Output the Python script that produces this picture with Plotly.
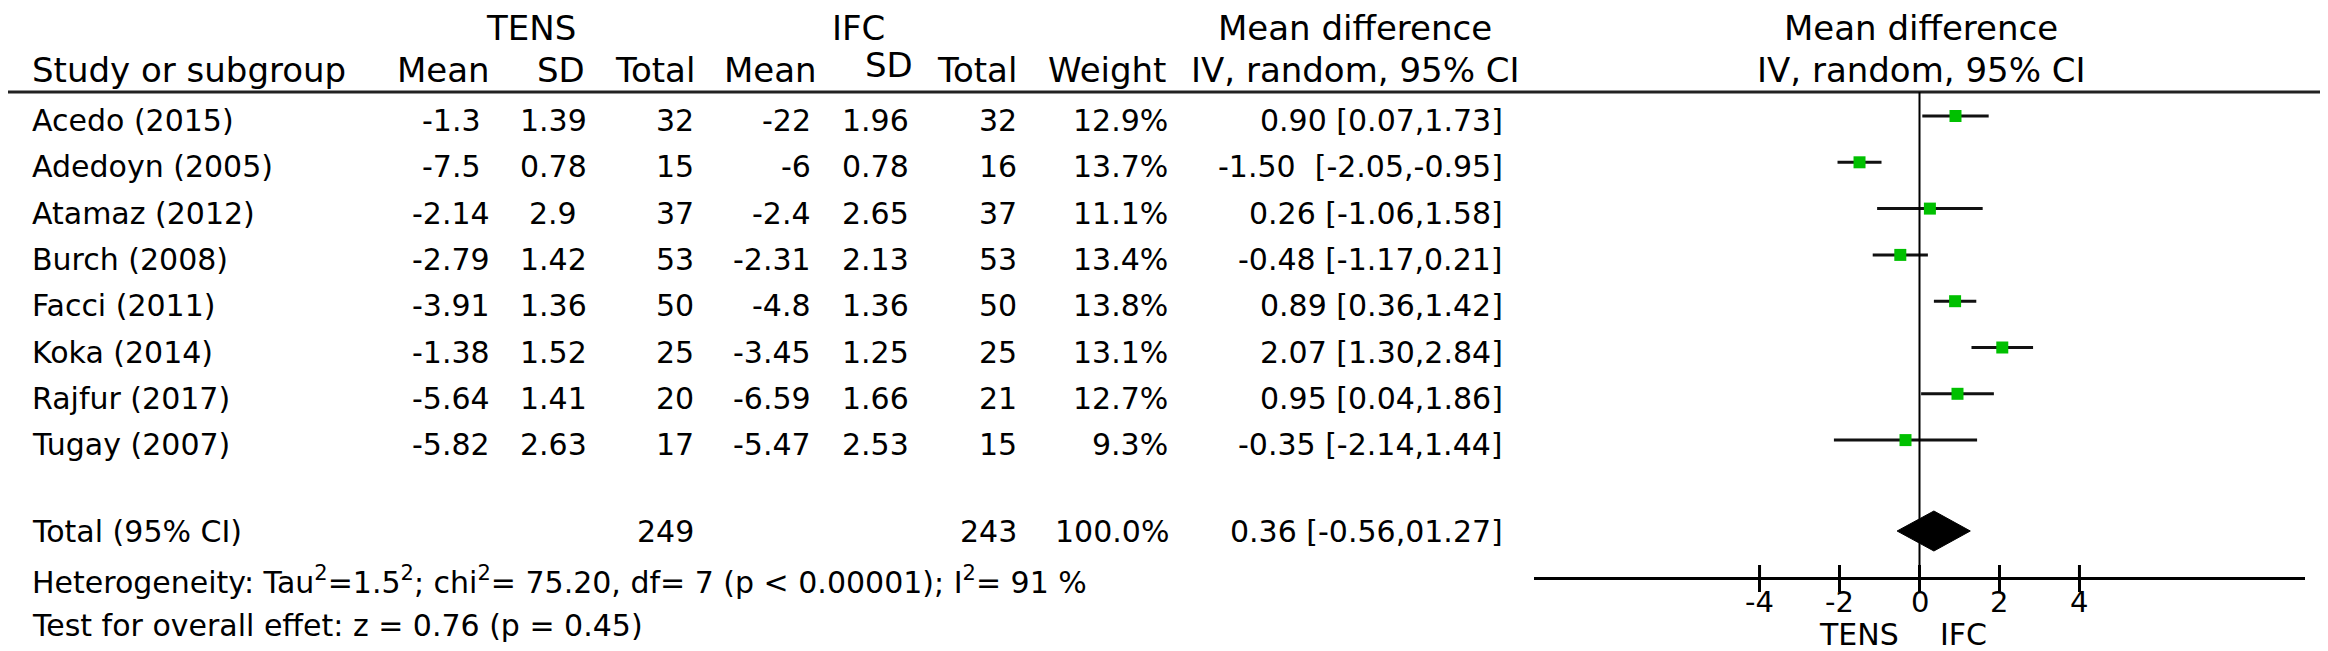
import plotly.graph_objects as go

# ---------------- data ----------------
studies = ["Acedo (2015)", "Adedoyn (2005)", "Atamaz (2012)", "Burch (2008)",
           "Facci (2011)", "Koka (2014)", "Rajfur (2017)", "Tugay (2007)"]
tens_mean = [-1.3, -7.5, -2.14, -2.79, -3.91, -1.38, -5.64, -5.82]
tens_sd = [1.39, 0.78, 2.9, 1.42, 1.36, 1.52, 1.41, 2.63]
tens_n = [32, 15, 37, 53, 50, 25, 20, 17]
ifc_mean = [-22, -6, -2.4, -2.31, -4.8, -3.45, -6.59, -5.47]
ifc_sd = [1.96, 0.78, 2.65, 2.13, 1.36, 1.25, 1.66, 2.53]
ifc_n = [32, 16, 37, 53, 50, 25, 21, 15]
weight = [12.9, 13.7, 11.1, 13.4, 13.8, 13.1, 12.7, 9.3]
md = [0.90, -1.50, 0.26, -0.48, 0.89, 2.07, 0.95, -0.35]
md_lo = [0.07, -2.05, -1.06, -1.17, 0.36, 1.30, 0.04, -2.14]
md_hi = [1.73, -0.95, 1.58, 0.21, 1.42, 2.84, 1.86, 1.44]
md_text = ["0.90 [0.07,1.73]", "-1.50\u00a0 [-2.05,-0.95]", "0.26 [-1.06,1.58]",
           "-0.48 [-1.17,0.21]", "0.89 [0.36,1.42]", "2.07 [1.30,2.84]",
           "0.95 [0.04,1.86]", "-0.35 [-2.14,1.44]"]
total_tens_n = 249
total_ifc_n = 243
total_weight = "100.0%"
total_md, total_lo, total_hi = 0.36, -0.56, 1.27
total_text = "0.36 [-0.56,01.27]"
heterogeneity = "Heterogeneity: Tau<sup>2</sup>=1.5<sup>2</sup>; chi<sup>2</sup>= 75.20, df= 7 (p < 0.00001); I<sup>2</sup>= 91 %"
overall = "Test for overall effet: z = 0.76 (p = 0.45)"
tick_vals = [-4, -2, 0, 2, 4]
tick_text = ["-4", "-2", "0", "2", "4"]

# ---------------- layout constants (pixels) ----------------
W, H = 2328, 651
FONT = "DejaVu Sans, Liberation Sans, Arial, sans-serif"
FS = 30          # body text
FS_HEAD = 34     # header text
FS_TICK = 29
FS_SIDE = 30
AXIS_Y = 569
HEAD_LINE_Y = 84
ROW0, ROW_STEP = 108, 46.3
TEXT_OFF = 4.5
TOTAL_Y = 523
GREEN = "#00c000"

row_y = [ROW0 + i * ROW_STEP for i in range(len(studies))]

def px(x):
    return x / W

def py(y):
    return 1 - y / H

fig = go.Figure()

# CI lines
cx, cy = [], []
for lo, hi, y in zip(md_lo, md_hi, row_y):
    cx += [lo, hi, None]
    cy += [y, y, None]
fig.add_trace(go.Scatter(x=cx, y=cy, mode="lines", line=dict(color="#111111", width=3),
                         hoverinfo="skip", showlegend=False))
# squares
fig.add_trace(go.Scatter(x=md, y=row_y, mode="markers",
                         marker=dict(symbol="square", size=12, color=GREEN, line=dict(width=0)),
                         showlegend=False))
# diamond
DH = 20
fig.add_trace(go.Scatter(x=[total_lo, total_md, total_hi, total_md, total_lo],
                         y=[TOTAL_Y, TOTAL_Y - DH, TOTAL_Y, TOTAL_Y + DH, TOTAL_Y],
                         mode="lines", fill="toself", fillcolor="black",
                         line=dict(color="black", width=1), showlegend=False))
# upper half of tick marks (lower half drawn by the axis)
tx, ty = [], []
for t in tick_vals:
    tx += [t, t, None]
    ty += [AXIS_Y - 12, AXIS_Y, None]
fig.add_trace(go.Scatter(x=tx, y=ty, mode="lines", line=dict(color="black", width=3),
                         hoverinfo="skip", showlegend=False))

# header line across full width
fig.add_shape(type="line", xref="paper", yref="paper", x0=0, x1=1,
              y0=py(HEAD_LINE_Y), y1=py(HEAD_LINE_Y), line=dict(color="#222222", width=3))
# zero line
fig.add_shape(type="line", xref="x", yref="y", x0=0, x1=0, y0=HEAD_LINE_Y, y1=AXIS_Y,
              line=dict(color="black", width=2))

ann = []

def txt(text, x, y, anchor="left", size=FS, xref="paper"):
    ann.append(dict(text=text, x=px(x) if xref == "paper" else x, y=py(y),
                    xref=xref, yref="paper",
                    xanchor=anchor, yanchor="middle", showarrow=False,
                    font=dict(family=FONT, size=size, color="black")))

# headers
HY1, HY2 = 20, 62
txt("TENS", 523, HY1, "center", FS_HEAD)
txt("IFC", 850, HY1, "center", FS_HEAD)
txt("Mean difference", 1347, HY1, "center", FS_HEAD)
txt("Mean difference", 1913, HY1, "center", FS_HEAD)
txt("Study or subgroup", 22, HY2, "left", FS_HEAD)
txt("Mean", 435, HY2, "center", FS_HEAD)
txt("SD", 579, HY2, "right", FS_HEAD)
txt("Total", 689, HY2, "right", FS_HEAD)
txt("Mean", 762, HY2, "center", FS_HEAD)
txt("SD", 907, HY2 - 5, "right", FS_HEAD)
txt("Total", 1011, HY2, "right", FS_HEAD)
txt("Weight", 1160, HY2, "right", FS_HEAD)
txt("IV, random, 95% CI", 1347, HY2, "center", FS_HEAD)
txt("IV, random, 95% CI", 1913, HY2, "center", FS_HEAD)

for i, s in enumerate(studies):
    y = row_y[i] + TEXT_OFF
    txt(s, 22, y, "left")
    txt(f"{tens_mean[i]:g}", 443, y, "center")
    txt(f"{tens_sd[i]:g}", 545, y, "center")
    txt(str(tens_n[i]), 688, y, "right")
    txt(f"{ifc_mean[i]:g}", 805, y, "right")
    txt(f"{ifc_sd[i]:g}", 903, y, "right")
    txt(str(ifc_n[i]), 1011, y, "right")
    txt(f"{weight[i]:.1f}%", 1162, y, "right")
    txt(md_text[i], 1497, y, "right")

txt("Total (95% CI)", 22, TOTAL_Y, "left")
txt(str(total_tens_n), 688, TOTAL_Y, "right")
txt(str(total_ifc_n), 1011, TOTAL_Y, "right")
txt(total_weight, 1163, TOTAL_Y, "right")
txt(total_text, 1497, TOTAL_Y, "right")
txt(heterogeneity, 22, 572, "left")
txt(overall, 22, 617, "left")

# tick labels of the forest axis
for t, lab in zip(tick_vals, tick_text):
    txt(lab, t, 594, "center", FS_TICK, xref="x")

# TENS / IFC under axis
txt("TENS", -0.47, 626, "right", FS_SIDE, xref="x")
txt("IFC", 0.45, 626, "left", FS_SIDE, xref="x")

fig.update_layout(
    width=W, height=H,
    margin=dict(l=0, r=0, t=0, b=0),
    paper_bgcolor="white", plot_bgcolor="white",
    showlegend=False,
    annotations=ann,
    xaxis=dict(domain=[px(1526), px(2297)], range=[-9.64, 9.64], showgrid=False, zeroline=False,
               showline=True, linecolor="black", linewidth=3,
               ticks="outside", ticklen=12, tickwidth=3, tickcolor="black",
               tickmode="array", tickvals=tick_vals, showticklabels=False,
               anchor="y", fixedrange=True),
    yaxis=dict(domain=[py(AXIS_Y), 1], range=[AXIS_Y, 0], showgrid=False, zeroline=False,
               showline=False, showticklabels=False, ticks="", fixedrange=True),
)

fig.write_html("out.html")
